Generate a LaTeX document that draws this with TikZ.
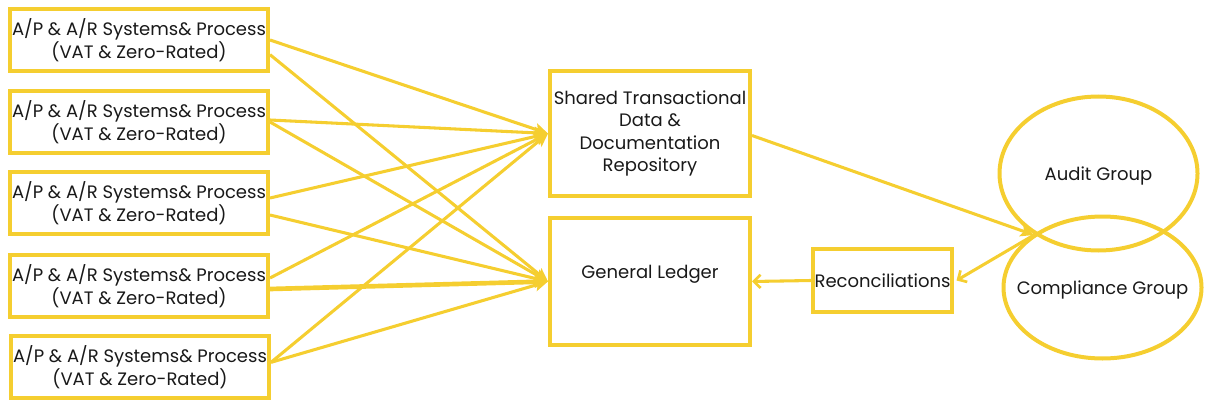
\documentclass[tikz,border=0pt]{standalone}
\usepackage{fontspec}
\setmainfont{Poppins}
\usetikzlibrary{arrows.meta,shapes.geometric}

\definecolor{gold}{RGB}{245,206,48}
\definecolor{ink}{RGB}{25,25,25}

\begin{document}
\begin{tikzpicture}[x=0.75pt, y=-0.75pt,
    box/.style={draw=gold, line width=3pt, align=center, text=ink, inner sep=0pt,
        font=\fontsize{13.5}{16.8}\selectfont},
    apar/.style={box, minimum width=193.5pt, minimum height=46.5pt},
    group/.style={ellipse, draw=gold, line width=3pt, inner sep=0pt,
        minimum width=148.5pt},
    grouptext/.style={text=ink, font=\fontsize{13.5}{16.8}\selectfont, yshift=-2pt},
    link/.style={gold, line width=2.3pt},
    feed/.style={link, -{Stealth[length=10pt, width=9pt, inset=2pt]}},
    back/.style={link, -{Straight Barb[length=5pt, width=10pt, line width=2pt]}}]

    \useasboundingbox (0,0) rectangle (1209,403);

    % 1. the five A/P & A/R boxes on the left
    \node[apar] (ap1) at (139,40)  {A/P \& A/R Systems\& Process\\(VAT \& Zero-Rated)};
    \node[apar] (ap2) at (139,122) {A/P \& A/R Systems\& Process\\(VAT \& Zero-Rated)};
    \node[apar] (ap3) at (139,203) {A/P \& A/R Systems\& Process\\(VAT \& Zero-Rated)};
    \node[apar] (ap4) at (139,286) {A/P \& A/R Systems\& Process\\(VAT \& Zero-Rated)};
    \node[apar] (ap5) at (140,367) {A/P \& A/R Systems\& Process\\(VAT \& Zero-Rated)};

    % 2. repository and ledger in the middle
    \node[box, minimum width=150pt, minimum height=93.75pt] (repo) at (650,133.5)
        {Shared Transactional\\Data \&\\Documentation\\Repository};
    \node[box, minimum width=150pt, minimum height=95pt, text depth=15pt] (gl) at (650,281.5)
        {General Ledger};
    \node[box, minimum width=104pt, minimum height=47pt] (recon) at (882.5,280.5)
        {Reconciliations};

    % 3. the two overlapping groups
    \node[group, minimum height=115.5pt,
        label={[grouptext]center:Audit Group}] (audit) at (1098.5,173.5) {};
    \node[group, minimum height=106.5pt,
        label={[grouptext]center:Compliance Group}] (comp) at (1102.5,287.5) {};
    \coordinate (meet) at (1034,235);

    % 4. every box feeds both the repository and the ledger
    \draw[feed] (ap1.east) -- (repo.west);
    \draw[feed] ([yshift=-11pt]ap1.east) -- (gl.west);
    \draw[feed] ([yshift=1.5pt]ap2.east) -- (repo.west);
    \draw[feed] (ap2.east) -- (gl.west);
    \draw[feed] ([yshift=3.75pt]ap3.east) -- (repo.west);
    \draw[feed] ([yshift=-9pt]ap3.east) -- (gl.west);
    \draw[feed] ([yshift=6pt]ap4.east) -- (repo.west);
    \draw[feed, line width=3.5pt] ([yshift=-2.25pt]ap4.east) -- (gl.west);
    \draw[feed] ([yshift=3.5pt]ap5.east) -- (repo.west);
    \draw[feed] ([yshift=3.5pt]ap5.east) -- (gl.west);

    % 5. links on the right
    \draw[feed] ([yshift=-1.5pt]repo.east) -- (meet);
    \draw[back] (meet) -- ([xshift=2pt]recon.east);
    \draw[back] (recon.west) -- (gl.east);

\end{tikzpicture}
\end{document}
